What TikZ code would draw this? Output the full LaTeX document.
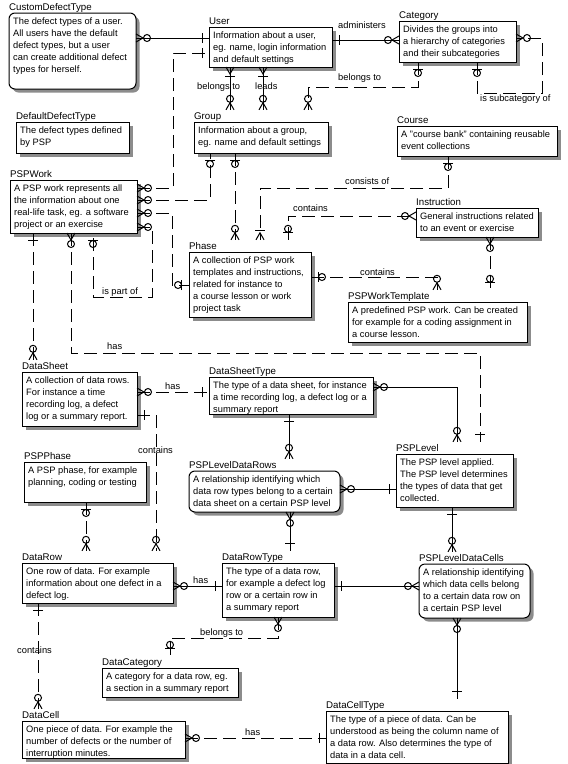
\documentclass[tikz,border=0pt]{standalone}
\usepackage{fontspec}
\setmainfont{Liberation Sans}
\newcommand\ft{\fontsize{9.3}{12}\selectfont}
\newcommand\fttl{\fontsize{9.7}{12}\selectfont}
\tikzset{
  lw/.style={line width=1pt},
  ent/.style={draw, lw, fill=white, inner sep=0pt, outer sep=0pt},
  shad/.style={fill=black!45},
  ttl/.style={anchor=base west, font=\fttl, inner xsep=0pt, inner ysep=2pt, text height=7pt},
  txt/.style={anchor=base west, font=\ft, inner sep=0pt},
  rel/.style={anchor=base west, font=\ft, inner sep=0pt},
  conn/.style={lw},
  dsh/.style={lw, dash pattern=on 13pt off 6pt},
  rnd/.style={rounded corners=6pt},
  pics/zm/.style={code={\draw[lw] (0,4)--(7,0)--(0,-4); \draw[lw] (11,0) circle (3.5);}},
  pics/zo/.style={code={\draw[lw] (7.5,-5)--(7.5,5); \draw[lw] (11,0) circle (3.5);}},
  pics/one/.style={code={\draw[lw] (7,-5)--(7,5);}},
  pics/om/.style={code={\draw[lw] (0,4)--(7,0)--(0,-4); \draw[lw] (9,-5)--(9,5);}},
}
\newcommand\entity[8][]{%
  \fill[shad,#1] (#3+3.5,#4+3.5) rectangle (#5+3.5,#6+3.5);
  \node[ent,#1,anchor=north west,minimum width={#5-#3},minimum height={#6-#4}] (#2) at (#3,#4) {};
  \node[ttl] (#2T) at (#3,#4-3) {#7};
  \node[txt] (#2X) at (#3+4,#4+11) {\begin{tabular}[t]{@{}l@{}}#8\end{tabular}};
}
\begin{document}
\begin{tikzpicture}[x=1pt,y=-1pt]
\useasboundingbox (0,0) rectangle (568,764);
\fill[white] (0,0) rectangle (568,764);

\entity[rnd]{cdt}{9}{13}{136}{89}{CustomDefectType}{The defect types of a user.\\All users have the default\\defect types, but a user\\can create additional defect\\types for herself.}
\entity{ddt}{16}{122}{129}{153}{DefaultDefectType}{The defect types defined\\by PSP}
\entity{user}{209}{27}{332}{67}{User}{Information about a user,\\eg. name, login information\\and default settings}
\entity{cat}{399}{21}{516}{62}{Category}{Divides the groups into\\a hierarchy of categories\\and their subcategories}
\entity{group}{194}{122}{328}{153}{Group}{Information about a group,\\eg. name and default settings}
\entity{course}{397}{126}{557}{156}{Course}{A "course bank" containing reusable\\event collections}
\entity{pspwork}{10}{180}{137}{233}{PSPWork}{A PSP work represents all\\the information about one\\real-life task, eg. a software\\project or an exercise}
\entity{instr}{416}{208}{538}{237}{Instruction}{General instructions related\\to an event or exercise}
\entity{phase}{189}{252}{311}{317}{Phase}{A collection of PSP work\\templates and instructions,\\related for instance to\\a course lesson or work\\project task}
\entity{pwt}{348}{302}{527}{342}{PSPWorkTemplate}{A predefined PSP work. Can be created\\for example for a coding assignment in\\a course lesson.}
\entity{ds}{22}{372}{137}{426}{DataSheet}{A collection of data rows.\\For instance a time\\recording log, a defect\\log or a summary report.}
\entity{dst}{209}{377}{373}{414}{DataSheetType}{The type of a data sheet, for instance\\a time recording log, a defect log or a\\summary report}
\entity{pspphase}{24}{462}{146}{502}{PSPPhase}{A PSP phase, for example\\planning, coding or testing}
\entity[rnd]{pldr}{189}{471}{340}{512}{PSPLevelDataRows}{A relationship identifying which\\data row types belong to a certain\\data sheet on a certain PSP level}
\entity{lvl}{396}{454}{513}{507}{PSPLevel}{The PSP level applied.\\The PSP level determines\\the types of data that get\\collected.}
\entity{drow}{22}{563}{173}{603}{DataRow}{One row of data. For example\\information about one defect in a\\defect log.}
\entity{drt}{222}{563}{334}{617}{DataRowType}{The type of a data row,\\for example a defect log\\row or a certain row in\\a summary report}
\entity[rnd]{pldc}{419}{564}{530}{618}{PSPLevelDataCells}{A relationship identifying\\which data cells belong\\to a certain data row on\\a certain PSP level}
\entity{dcat}{102}{668}{238}{697}{DataCategory}{A category for a data row, eg.\\a section in a summary report}
\entity{dcell}{22}{721}{185}{758}{DataCell}{One piece of data. For example the\\number of defects or the number of\\interruption minutes.}
\entity{dct}{326}{711}{508}{763}{DataCellType}{The type of a piece of data. Can be\\understood as being the column name of\\a data row. Also determines the type of\\data in a data cell.}

% C1
\draw[conn] (cdt.east |- 0,38) -- (user.west |- 0,38);
\pic at (cdt.east |- 0,38) {zm};
\pic[rotate=180] at (user.west |- 0,38) {one};
% C2
\draw[dsh] (pspwork.east |- 0,188) -- (173,188) -- (173,53) -- (user.west |- 0,53);
\pic at (pspwork.east |- 0,188) {zm};
\pic[rotate=180] at (user.west |- 0,53) {one};
% C3
\draw[conn] (user.east |- 0,40) -- (cat.west |- 0,40);
\pic at (user.east |- 0,40) {one};
\pic[rotate=180] at (cat.west |- 0,40) {zm};
\node[rel] (l1) at (338,28) {administers};
% C4
\draw[conn] (230,0 |- user.south) -- (230,0 |- groupT.north);
\pic[rotate=-90] at (230,0 |- user.south) {om};
\pic[rotate=90] at (230,0 |- groupT.north) {zm};
\node[rel] (l2) at (197,89) {belongs to};
% C5
\draw[conn] (263,0 |- user.south) -- (263,0 |- groupT.north);
\pic[rotate=-90] at (263,0 |- user.south) {om};
\pic[rotate=90] at (263,0 |- groupT.north) {zm};
\node[rel] (l3) at (255,89) {leads};
% C6
\draw[dsh] (418,0 |- cat.south) -- (418,87) -- (308,87) -- (308,0 |- groupT.north);
\pic[rotate=-90] at (418,0 |- cat.south) {zo};
\pic[rotate=90] at (308,0 |- groupT.north) {zm};
\node[rel] (l4) at (338,80) {belongs to};
% C7
\draw[dsh] (477,0 |- cat.south) -- (477,93) -- (542,93) -- (542,38) -- (cat.east |- 0,38);
\pic[rotate=-90] at (477,0 |- cat.south) {zo};
\pic at (cat.east |- 0,38) {zm};
\node[rel] (l5) at (480,101) {is subcategory of};
% C8
\draw[dsh] (pspwork.east |- 0,200) -- (210,200) -- (210,0 |- group.south);
\pic at (pspwork.east |- 0,200) {zm};
\pic[rotate=-90] at (210,0 |- group.south) {zo};
% C9
\draw[dsh] (pspwork.east |- 0,213) -- (172,213) -- (172,285) -- (phase.west |- 0,285);
\pic at (pspwork.east |- 0,213) {zm};
\pic[rotate=180] at (phase.west |- 0,285) {zo};
% C10
\draw[dsh] (pspwork.east |- 0,227) -- (152,227) -- (152,297) -- (93,297) -- (93,0 |- pspwork.south);
\pic at (pspwork.east |- 0,227) {zm};
\pic[rotate=-90] at (93,0 |- pspwork.south) {zo};
\node[rel] (l6) at (102,294) {is part of};
% C11
\draw[dsh] (33,0 |- pspwork.south) -- (33,0 |- dsT.north);
\pic[rotate=-90] at (33,0 |- pspwork.south) {one};
\pic[rotate=90] at (33,0 |- dsT.north) {zm};
% C12
\draw[dsh] (71,0 |- pspwork.south) -- (71,353) -- (480,353) -- (480,0 |- lvlT.north);
\pic[rotate=-90] at (71,0 |- pspwork.south) {zm};
\pic[rotate=90] at (480,0 |- lvlT.north) {one};
\node[rel] (l7) at (107,349) {has};
% C13
\draw[dsh] (235,0 |- group.south) -- (235,0 |- phaseT.north);
\pic[rotate=-90] at (235,0 |- group.south) {zo};
\pic[rotate=90] at (235,0 |- phaseT.north) {zm};
% C14
\draw[dsh] (448,0 |- course.south) -- (448,188) -- (260,188) -- (260,0 |- phaseT.north);
\pic[rotate=-90] at (448,0 |- course.south) {zo};
\pic[rotate=90] at (260,0 |- phaseT.north) {om};
\node[rel] (l8) at (345,184) {consists of};
% C15
\draw[dsh] (288,0 |- phaseT.north) -- (288,216) -- (instr.west |- 0,216);
\pic[rotate=90] at (288,0 |- phaseT.north) {zo};
\pic[rotate=180] at (instr.west |- 0,216) {zm};
\node[rel] (l9) at (293,211) {contains};
% C16
\draw[dsh] (490,0 |- instr.south) -- (490,0 |- pwtT.north);
\pic[rotate=-90] at (490,0 |- instr.south) {zm};
\pic[rotate=90] at (490,0 |- pwtT.north) {zo};
% C17
\draw[dsh] (phase.east |- 0,277) -- (437,277) -- (437,0 |- pwtT.north);
\pic at (phase.east |- 0,277) {zo};
\pic[rotate=90] at (437,0 |- pwtT.north) {zm};
\node[rel] (l10) at (360,275) {contains};
% C18
\draw[dsh] (ds.east |- 0,392) -- (dst.west |- 0,392);
\pic at (ds.east |- 0,392) {zm};
\pic[rotate=180] at (dst.west |- 0,392) {one};
\node[rel] (l11) at (165,389) {has};
% C19
\draw[dsh] (ds.east |- 0,415) -- (156,415) -- (156,0 |- drowT.north);
\pic at (ds.east |- 0,415) {one};
\pic[rotate=90] at (156,0 |- drowT.north) {zm};
\node[rel] (l12) at (138,453) {contains};
% C20
\draw[dsh] (86,0 |- pspphase.south) -- (86,0 |- drowT.north);
\pic[rotate=-90] at (86,0 |- pspphase.south) {zo};
\pic[rotate=90] at (86,0 |- drowT.north) {zm};
% C21
\draw[conn] (289,0 |- dst.south) -- (289,0 |- pldrT.north);
\pic[rotate=-90] at (289,0 |- dst.south) {one};
\pic[rotate=90] at (289,0 |- pldrT.north) {zm};
% C22
\draw[conn] (dst.east |- 0,387) -- (457,387) -- (457,0 |- lvlT.north);
\pic at (dst.east |- 0,387) {zm};
\pic[rotate=90] at (457,0 |- lvlT.north) {zm};
% C23
\draw[conn] (pldr.east |- 0,489) -- (lvl.west |- 0,489);
\pic at (pldr.east |- 0,489) {zm};
\pic[rotate=180] at (lvl.west |- 0,489) {one};
% C24
\draw[conn] (290,0 |- pldr.south) -- (290,0 |- drtT.north);
\pic[rotate=-90] at (290,0 |- pldr.south) {zm};
\pic[rotate=90] at (290,0 |- drtT.north) {one};
% C25
\draw[conn] (452,0 |- lvl.south) -- (452,0 |- pldcT.north);
\pic[rotate=-90] at (452,0 |- lvl.south) {one};
\pic[rotate=90] at (452,0 |- pldcT.north) {zm};
% C26
\draw[conn] (drow.east |- 0,586) -- (drt.west |- 0,586);
\pic at (drow.east |- 0,586) {zm};
\pic[rotate=180] at (drt.west |- 0,586) {one};
\node[rel] (l13) at (193,583) {has};
% C27
\draw[conn] (drt.east |- 0,586) -- (pldc.west |- 0,586);
\pic at (drt.east |- 0,586) {one};
\pic[rotate=180] at (pldc.west |- 0,586) {zm};
% C28
\draw[dsh] (278,0 |- drt.south) -- (278,638) -- (170,638) -- (170,0 |- dcatT.north);
\pic[rotate=-90] at (278,0 |- drt.south) {zm};
\pic[rotate=90] at (170,0 |- dcatT.north) {zo};
\node[rel] (l14) at (200,635) {belongs to};
% C29
\draw[dsh] (38,0 |- drow.south) -- (38,0 |- dcellT.north);
\pic[rotate=-90] at (38,0 |- drow.south) {one};
\pic[rotate=90] at (38,0 |- dcellT.north) {zm};
\node[rel] (l15) at (17,653) {contains};
% C30
\draw[dsh] (dcell.east |- 0,738) -- (dct.west |- 0,738);
\pic at (dcell.east |- 0,738) {zm};
\pic[rotate=180] at (dct.west |- 0,738) {one};
\node[rel] (l16) at (245,735) {has};
% C31
\draw[conn] (457,0 |- pldc.south) -- (457,0 |- dctT.north);
\pic[rotate=-90] at (457,0 |- pldc.south) {zm};
\pic[rotate=90] at (457,0 |- dctT.north) {one};
\end{tikzpicture}
\end{document}
